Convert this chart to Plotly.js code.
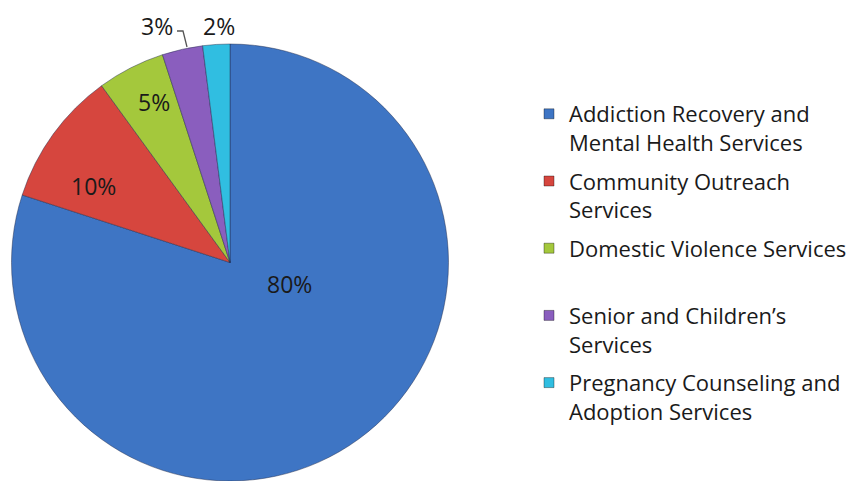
<!DOCTYPE html>
<html>
<head>
<meta charset="utf-8">
<script src="https://cdn.plot.ly/plotly-3.0.1.min.js"></script>
<style>html,body{margin:0;padding:0;background:#fff;}#chart{width:856px;height:481px;}</style>
</head>
<body>
<div id="chart"></div>
<script>
// ---- data ----
var categories = [
  "Addiction Recovery and<br>Mental Health Services",
  "Community Outreach<br>Services",
  "Domestic Violence Services<br>\u00a0",
  "Senior and Children\u2019s<br>Services",
  "Pregnancy Counseling and<br>Adoption Services"
];
var shares = [80, 10, 5, 3, 2];
var colors = ["#3e75c4", "#d6463e", "#a4c83c", "#8a5ebe", "#30bee1"];

// label positions (paper pixels) for percentage text
var labelPos = [[289, 284], [93, 186], [154, 102], [157, 26], [219, 26]];

var W = 856, H = 481;
function px(x){ return x / W; }
function py(y){ return 1 - y / H; }

var total = shares.reduce(function(a,b){return a+b;}, 0);
var FONT = "'Open Sans', 'Noto Sans', 'DejaVu Sans', sans-serif";

var traces = [{
  type: "pie",
  labels: categories,
  values: shares,
  sort: false,
  direction: "clockwise",
  rotation: 0,
  textinfo: "none",
  hoverinfo: "label+percent",
  showlegend: false,
  marker: { colors: colors, line: { color: "rgba(30,40,70,0.45)", width: 1 } },
  domain: { x: [px(11), px(449)], y: [0, py(44)] }
}];

// legend entries
categories.forEach(function(c, i){
  traces.push({
    type: "scatter", mode: "markers",
    x: [null], y: [null],
    name: c,
    legendgroup: "g" + i,
    marker: { symbol: "square", size: 10, color: colors[i], line: { color: "rgba(0,0,0,0.35)", width: 1 } },
    showlegend: true,
    hoverinfo: "skip"
  });
});

var annotations = shares.map(function(v, i){
  return {
    text: Math.round(v / total * 100) + "%",
    x: px(labelPos[i][0]), y: py(labelPos[i][1]),
    xref: "paper", yref: "paper",
    xanchor: "center", yanchor: "middle",
    showarrow: false,
    font: { family: FONT, size: 23, color: "#1a1a1a" }
  };
});

var layout = {
  width: W, height: H,
  margin: { l: 0, r: 0, t: 0, b: 0 },
  paper_bgcolor: "#ffffff",
  plot_bgcolor: "#ffffff",
  xaxis: { visible: false, domain: [0.99, 1] },
  yaxis: { visible: false, domain: [0.99, 1] },
  showlegend: true,
  legend: {
    x: px(529), y: py(93), xanchor: "left", yanchor: "top",
    valign: "top",
    tracegroupgap: 7,
    traceorder: "grouped",
    font: { family: FONT, size: 22, color: "#1a1a1a" },
    bgcolor: "rgba(0,0,0,0)", borderwidth: 0
  },
  annotations: annotations,
  shapes: [{
    type: "path", xref: "paper", yref: "paper",
    path: "M " + px(177) + "," + py(31) + " L " + px(183) + "," + py(31) + " L " + px(187) + "," + py(47),
    line: { color: "#555555", width: 1.3 }
  }]
};

Plotly.newPlot("chart", traces, layout, { displayModeBar: false, staticPlot: true });
</script>
</body>
</html>
